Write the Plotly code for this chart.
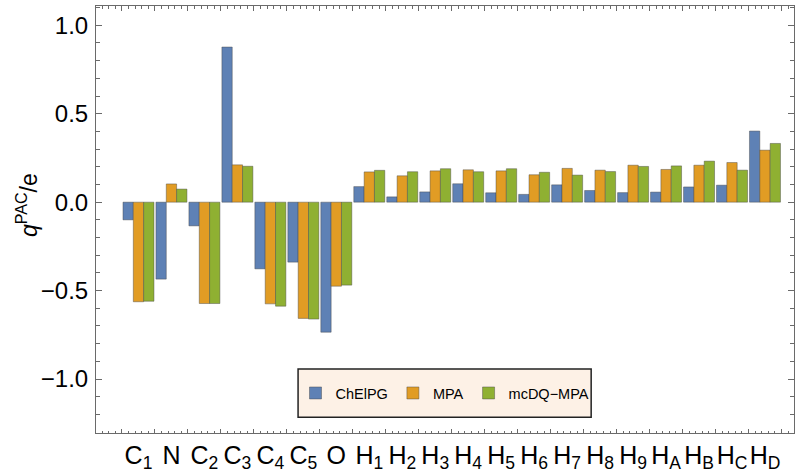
import plotly.graph_objects as go

categories = ["C<sub>1</sub>", "N", "C<sub>2</sub>", "C<sub>3</sub>", "C<sub>4</sub>", "C<sub>5</sub>", "O",
              "H<sub>1</sub>", "H<sub>2</sub>", "H<sub>3</sub>", "H<sub>4</sub>", "H<sub>5</sub>", "H<sub>6</sub>",
              "H<sub>7</sub>", "H<sub>8</sub>", "H<sub>9</sub>", "H<sub>A</sub>", "H<sub>B</sub>", "H<sub>C</sub>",
              "H<sub>D</sub>"]
chelpg = [-0.100, -0.435, -0.134, 0.877, -0.377, -0.339, -0.735, 0.088, 0.030, 0.058,
          0.104, 0.053, 0.044, 0.098, 0.066, 0.054, 0.057, 0.086, 0.096, 0.402]
mpa = [-0.563, 0.103, -0.573, 0.211, -0.575, -0.657, -0.475, 0.171, 0.149, 0.177,
       0.183, 0.177, 0.155, 0.191, 0.181, 0.209, 0.185, 0.209, 0.224, 0.294]
mcdq = [-0.560, 0.074, -0.573, 0.203, -0.588, -0.661, -0.469, 0.180, 0.172, 0.189,
        0.172, 0.189, 0.169, 0.153, 0.173, 0.202, 0.205, 0.232, 0.181, 0.332]
series_names = ["ChElPG", "MPA", "mcDQ\u2212MPA"]
series_colors = ["#5E81B5", "#E19C24", "#8FB032"]
y_ticks = [-1.0, -0.5, 0.0, 0.5, 1.0]

FONT = "Liberation Sans, Arial, sans-serif"
FRAME = "#6a6a6a"

xpos = list(range(len(categories)))
fig = go.Figure()
for name, vals, col in zip(series_names, [chelpg, mpa, mcdq], series_colors):
    fig.add_trace(go.Bar(
        x=xpos, y=vals, name=name,
        marker=dict(color=col, line=dict(color="rgba(70,70,70,0.55)", width=0.8)),
    ))

# invisible trace on overlay axis to carry the category labels
fig.add_trace(go.Scatter(x=xpos, y=[0] * len(xpos), xaxis="x2", mode="markers",
                         marker=dict(opacity=0), showlegend=False, hoverinfo="skip"))

xr = [-1.288, 19.88]
fig.update_layout(
    width=796, height=473,
    margin=dict(l=96, r=2, t=6, b=40),
    plot_bgcolor="white", paper_bgcolor="white",
    barmode="group", bargap=0.06, bargroupgap=0,
    font=dict(family=FONT, color="black"),
    xaxis=dict(
        range=xr, showgrid=False, zeroline=False, automargin=False,
        showline=True, linecolor=FRAME, linewidth=1, mirror="ticks",
        ticks="inside", tickcolor=FRAME, ticklen=4.5, tickwidth=1,
        tickmode="linear", tick0=0.5, dtick=1, showticklabels=False,
        minor=dict(ticks="inside", dtick=0.2, tick0=0.5, ticklen=2.5, tickcolor=FRAME, tickwidth=1),
    ),
    xaxis2=dict(
        overlaying="x", matches="x", side="bottom", range=xr, automargin=False,
        showgrid=False, zeroline=False, showline=False, ticks="",
        tickmode="array", tickvals=xpos, ticktext=categories, tickangle=0,
        tickfont=dict(family=FONT, size=25, color="black"),
        ticklabelstandoff=5,
    ),
    yaxis=dict(
        range=[-1.305, 1.109], showgrid=False, zeroline=False, automargin=False,
        showline=True, linecolor=FRAME, linewidth=1, mirror="ticks",
        ticks="inside", tickcolor=FRAME, ticklen=6, tickwidth=1,
        tickmode="array", tickvals=y_ticks, ticktext=["\u22121.0", "\u22120.5", "0.0", "0.5", "1.0"],
        tickfont=dict(family=FONT, size=24, color="black"),
        ticklabelstandoff=2,
        minor=dict(ticks="inside", dtick=0.1, tick0=0, ticklen=4, tickcolor=FRAME, tickwidth=1),
    ),
    legend=dict(
        orientation="h", x=0.5, xanchor="center", y=0.0936, yanchor="middle",
        bgcolor="rgba(0,0,0,0)", borderwidth=0,
        font=dict(family=FONT, size=14.5, color="black"),
    ),
    shapes=[dict(type="rect", xref="paper", yref="paper",
                 x0=0.2895, x1=0.7094, y0=0.0367, y1=0.1498,
                 fillcolor="#FDF1E6", line=dict(color="#222222", width=1.5), layer="above")],
    annotations=[dict(
        text="<i>q</i><sup>PAC</sup>/e", xref="paper", yref="paper",
        x=-0.0987, y=0.534, xanchor="center", yanchor="middle",
        textangle=-90, showarrow=False,
        font=dict(family=FONT, size=23, color="black"),
    )],
)

fig.write_html("out.html")
